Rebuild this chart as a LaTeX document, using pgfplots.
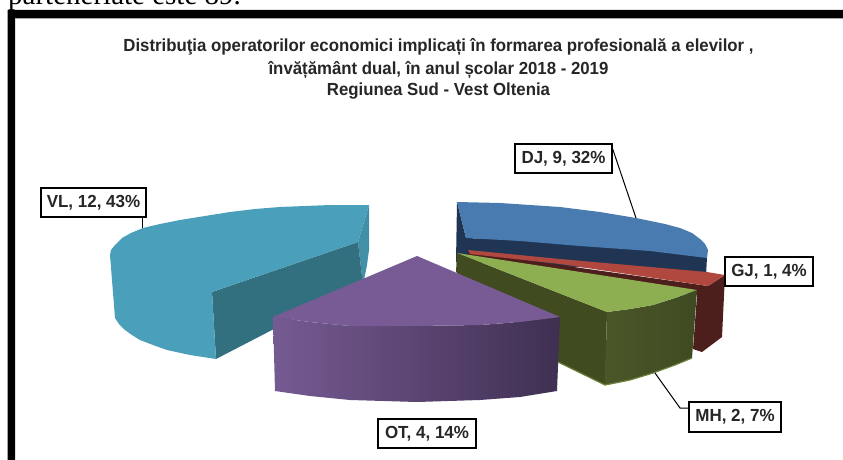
\documentclass[border=0pt]{standalone}
\usepackage{fontspec}
\usepackage{graphicx}
\setmainfont{Liberation Sans}
\newfontfamily\serifx{Liberation Serif}
\usepackage{pgfplots}
\pgfplotsset{compat=1.18}
\definecolor{bluetop}{HTML}{4A7BB0}
\definecolor{bluedark}{HTML}{1F3553}
\definecolor{redtop}{HTML}{B0483F}
\definecolor{reddark}{HTML}{4D1F1C}
\definecolor{greentop}{HTML}{8EAE52}
\definecolor{greendark}{HTML}{404B20}
\definecolor{greenfL}{HTML}{4A5728}
\definecolor{greenfR}{HTML}{3F4A22}
\definecolor{purptop}{HTML}{785B94}
\definecolor{purpL}{HTML}{765A92}
\definecolor{purpR}{HTML}{3F3052}
\definecolor{tealtop}{HTML}{4AA0BA}
\definecolor{tealdark}{HTML}{33707F}
\definecolor{tealmid}{HTML}{428FA8}
\newcommand{\lab}[5]{\node[draw=black,fill=white,line width=1.4pt,minimum width=#3pt,minimum height=#4pt,inner sep=0pt,font=\fontsize{17.5}{17.5}\selectfont\bfseries,text=black!85] at (axis cs:#1,#2) {\scalebox{0.97}[1]{#5}};}
\newcommand{\ttl}[2]{\node[font=\fontsize{17.5}{17.5}\selectfont\bfseries,text=black!85] at (axis cs:438.5,#1) {\scalebox{0.96}[1]{#2}};}
\begin{document}
\begin{tikzpicture}
\path[use as bounding box,clip] (0,0) rectangle (843pt,460pt);
\begin{axis}[anchor=south west,at={(0pt,0pt)},scale only axis,width=843pt,height=460pt,
 xmin=0,xmax=843,ymin=0,ymax=460,y dir=reverse,hide axis,clip=false,
 every axis plot/.append style={no marks,draw=none,line width=0pt,forget plot}]
% frame
\addplot[fill=black] coordinates {(7.5,10)(843,10)(843,18)(15,18)(15,460)(7.5,460)} --cycle;
\addplot[fill=black!35] coordinates {(15,18)(843,18)(843,19)(15,19)} --cycle;
% VL
\addplot[fill=tealmid] coordinates {(369,205)(358,242)(363,285)(367,265)(369,250)} --cycle;
\addplot[fill=tealdark] coordinates {(212,292)(358,242)(363,285)(330,300)(216,359)} --cycle;
\addplot[fill=tealtop] coordinates {(369,205)(350,205)(330,205)(305,206)(280,207)(255,209)(230,212)(205,216)(180,220)(160,224)(143,228)(131,233)(122,238)(115,245)(111,250)(110,255)(115,318)(119,324)(125,330)(132,335)(140,340)(153,345)(167,350)(190,355)(216,359)(212,292)(358,242)} --cycle;
% DJ
\addplot[fill=bluedark] coordinates {(457,202)(466,238)(520,240)(580,245)(650,250)(707,257)(706,276)(600,268)(456,262)} --cycle;
\addplot[fill=bluetop] coordinates {(457,202)(500,203)(530,205)(560,207)(600,212)(636,218)(665,224)(680,228)(692,233)(700,239)(705,244)(708,250)(707,258)(650,251)(580,246)(520,241)(466,238)} --cycle;
% GJ
\addplot[fill=reddark] coordinates {(468,252)(708,286)(725,275)(722,337)(702,352)(693,349)(697,295)(470,260)} --cycle;
\addplot[fill=redtop] coordinates {(468,250)(560,259)(707,272)(725,275)(708,286)(560,264)(470,254)} --cycle;
% MH
\addplot[fill=greendark] coordinates {(457,253)(607,312)(605,385)(558,362)(456,272)} --cycle;
\addplot[left color=greenfL,right color=greenfR] coordinates {(607,312)(630,309)(653,305)(675,298)(697,290)(692,358)(675,365)(653,373)(630,380)(605,385)} --cycle;
\addplot[fill=greentop] coordinates {(457,253)(697,290)(675,298)(653,305)(630,309)(607,312)} --cycle;
\addplot[draw=greentop!55!greendark,line width=1.2pt] coordinates {(558,362)(605,385)(630,380)(653,373)(675,365)(692,358)};
% OT
\addplot[left color=purpL,right color=purpR] coordinates {(273,317)(310,322)(350,326)(417,326)(480,325)(520,322)(560,317)(557,391)(520,397)(480,400)(417,402)(350,400)(310,396)(275,391)} --cycle;
\addplot[fill=purptop] coordinates {(417,256)(560,317)(520,322)(480,325)(417,326)(350,326)(310,322)(273,317)} --cycle;
% leaders
\addplot[draw=black,line width=1pt] coordinates {(142,217)(142,228)};
\addplot[draw=black,line width=1pt] coordinates {(612,147)(636,218)};
\addplot[draw=black,line width=1pt] coordinates {(655,373)(680,408)(689,408)};
% labels
\lab{93.5}{202.5}{105}{29}{VL, 12, 43\%}
\lab{563.5}{158.5}{97}{29}{DJ, 9, 32\%}
\lab{769}{271.5}{88}{29}{GJ, 1, 4\%}
\lab{735}{417}{92}{30}{MH, 2, 7\%}
\lab{427}{433.5}{98}{29}{OT, 4, 14\%}
% title
\ttl{46.5}{Distribuţia operatorilor economici implicați în formarea profesională a elevilor ,}
\ttl{69.5}{învățământ dual, în anul școlar 2018 - 2019}
\ttl{91.5}{Regiunea Sud - Vest Oltenia}
% cut-off text above
\node[anchor=base west,inner sep=0pt,font=\serifx\fontsize{29}{29}\selectfont] at (axis cs:8,5) {parteneriate este 89.};
\end{axis}
\end{tikzpicture}
\end{document}
